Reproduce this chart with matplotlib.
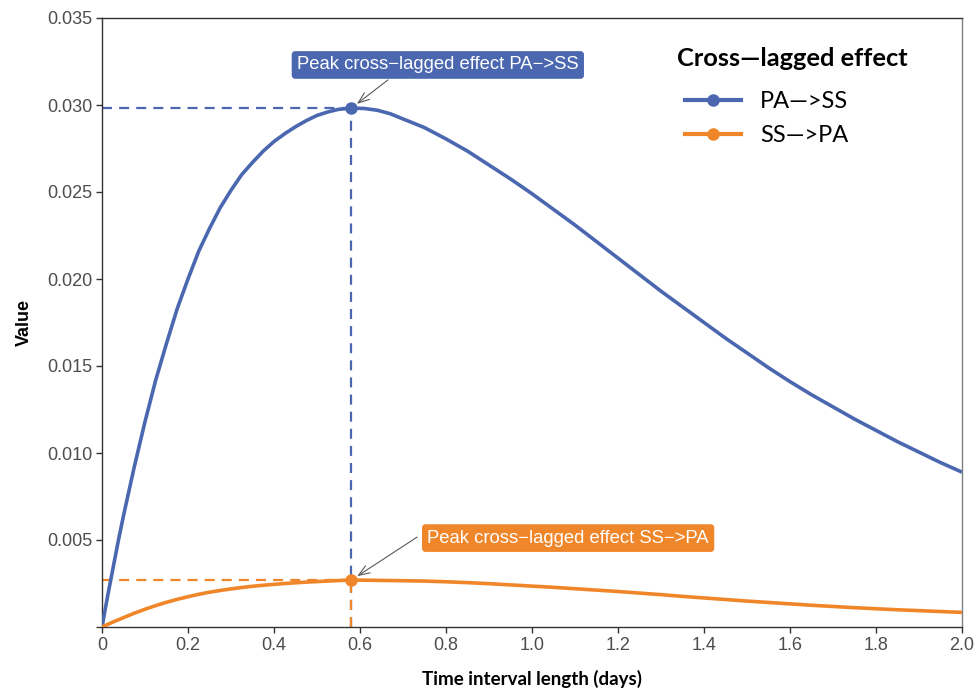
import numpy as np
import matplotlib
matplotlib.use("Agg")
import matplotlib.pyplot as plt
from matplotlib.lines import Line2D

# ---- data ----
time_days = [0.0, 0.0125, 0.025, 0.0375, 0.05, 0.075, 0.1, 0.125, 0.15, 0.175, 0.2,
             0.225, 0.25, 0.275, 0.3, 0.325, 0.35, 0.375, 0.4, 0.425, 0.45, 0.475,
             0.5, 0.525, 0.55, 0.58, 0.61, 0.64, 0.67, 0.7, 0.75, 0.8, 0.85, 0.9,
             0.95, 1.0, 1.05, 1.1, 1.15, 1.2, 1.25, 1.3, 1.35, 1.4, 1.45, 1.5, 1.55,
             1.6, 1.65, 1.7, 1.75, 1.8, 1.85, 1.9, 1.95, 2.0]
pa_to_ss = [0.0, 0.0017, 0.0033, 0.0049, 0.0064, 0.0092, 0.0118, 0.0142, 0.0163,
            0.0183, 0.0200, 0.0216, 0.0229, 0.0241, 0.0251, 0.0260, 0.0267, 0.02735,
            0.0279, 0.02835, 0.02875, 0.0291, 0.0294, 0.0296, 0.02975, 0.02982,
            0.0298, 0.0297, 0.0295, 0.0292, 0.0287, 0.02805, 0.02735, 0.02655,
            0.02575, 0.0249, 0.0240, 0.0231, 0.02215, 0.0212, 0.02025, 0.0193,
            0.0184, 0.0175, 0.0166, 0.01575, 0.0149, 0.0141, 0.01335, 0.01265,
            0.01195, 0.0113, 0.01065, 0.01005, 0.00945, 0.0089]
ss_to_pa = [0.0, 0.00014, 0.00028, 0.00041, 0.00054, 0.00079, 0.00102, 0.00123,
            0.00142, 0.00159, 0.00174, 0.00188, 0.00200, 0.00210, 0.00219, 0.00227,
            0.00234, 0.00240, 0.00245, 0.00250, 0.00254, 0.00258, 0.00261, 0.00264,
            0.00267, 0.00270, 0.00269, 0.00268, 0.00267, 0.00266, 0.00264, 0.00260,
            0.00255, 0.00249, 0.00242, 0.00235, 0.00228, 0.00220, 0.00212, 0.00204,
            0.00195, 0.00186, 0.00176, 0.00167, 0.00158, 0.00149, 0.00141, 0.00133,
            0.00125, 0.00118, 0.00111, 0.00105, 0.00099, 0.00094, 0.00089, 0.00084]
series_names = ["PA\u2014>SS", "SS\u2014>PA"]
peak_labels = ["Peak cross\u2212lagged effect PA\u2212>SS",
               "Peak cross\u2212lagged effect SS\u2212>PA"]
legend_title = "Cross\u2014lagged effect"
x_ticks = [0, 0.2, 0.4, 0.6, 0.8, 1.0, 1.2, 1.4, 1.6, 1.8, 2.0]
x_tick_labels = ["0", "0.2", "0.4", "0.6", "0.8", "1.0", "1.2", "1.4", "1.6", "1.8", "2.0"]
y_ticks = [0, 0.005, 0.010, 0.015, 0.020, 0.025, 0.030, 0.035]
y_tick_labels = ["", "0.005", "0.010", "0.015", "0.020", "0.025", "0.030", "0.035"]

BLUE = "#4A67B0"
ORANGE = "#F0862A"
colors = [BLUE, ORANGE]

fig = plt.figure(figsize=(9.76, 6.91), dpi=100)
W, H = 976, 691
ax = fig.add_axes([102 / W, (H - 627) / H, 860 / W, 609 / H])
ax.set_xlim(0, 2.0)
ax.set_ylim(0, 0.035)

x = np.array(time_days)
series = [np.array(pa_to_ss), np.array(ss_to_pa)]

# label positions (box centres) and arrow starts, in data units
label_pos = [(0.781, 0.0323), (1.084, 0.00511)]
arrow_start = [(0.665, 0.03144), (0.733, 0.00517)]

for y, c in zip(series, colors):
    ax.plot(x, y, color=c, lw=2.6, solid_capstyle="butt", solid_joinstyle="round",
            zorder=3)

for i, (y, c) in enumerate(zip(series, colors)):
    k = int(np.argmax(y))
    px, py = x[k], y[k]
    ax.plot([0, px], [py, py], color=c, lw=1.6, dashes=(4.5, 3.2), zorder=2)
    ax.plot([px, px], [0, py], color=c, lw=1.6, dashes=(4.5, 3.2), zorder=2 + i * 0.1)
    ax.plot([px], [py], "o", color=c, ms=8, zorder=4)
    ax.annotate("", xy=(px, py), xytext=arrow_start[i],
                arrowprops=dict(arrowstyle="->,head_length=0.8,head_width=0.3",
                                color="#5a5a5a", lw=0.8, shrinkA=0, shrinkB=5),
                zorder=5)
    ax.text(label_pos[i][0], label_pos[i][1], peak_labels[i], ha="center", va="center",
            color="white", fontsize=13.3, family="Liberation Sans", zorder=6,
            bbox=dict(boxstyle="round,pad=0.25,rounding_size=0.15", fc=c, ec=c))

ax.set_xticks(x_ticks)
ax.set_xticklabels(x_tick_labels)
ax.set_yticks(y_ticks)
ax.set_yticklabels(y_tick_labels)
for lab in ax.get_xticklabels() + ax.get_yticklabels():
    lab.set_family("Liberation Sans")
    lab.set_fontsize(13)
    lab.set_color("#4d4d4d")
ax.tick_params(direction="out", length=4, width=1, color="#333333", pad=3)

for s in ["left", "bottom", "top"]:
    ax.spines[s].set_color("#333333")
    ax.spines[s].set_linewidth(1)
ax.spines["right"].set_color("#808080")
ax.spines["right"].set_linewidth(1)

ax.set_xlabel("Time interval length (days)", family="Lato", fontweight="bold",
              fontsize=13.5, labelpad=12)
ax.set_ylabel("Value", family="Liberation Sans", fontweight="bold", fontsize=13,
              labelpad=10)

handles = [Line2D([0], [0], color=c, lw=3, marker="o", ms=8) for c in colors]
leg = ax.legend(handles, series_names, title=legend_title, loc="upper left",
                bbox_to_anchor=(0.659, 0.9655), frameon=False,
                prop={"family": "Lato", "size": 17},
                handlelength=2.4, handletextpad=0.8, labelspacing=0.55,
                borderaxespad=0, borderpad=0.35)
leg.get_title().set_fontproperties({"family": "Lato", "weight": "bold", "size": 18.3})
leg._legend_box.align = "left"
leg._legend_handle_box.pad = 5.5

fig.savefig("out.png", dpi=100)
